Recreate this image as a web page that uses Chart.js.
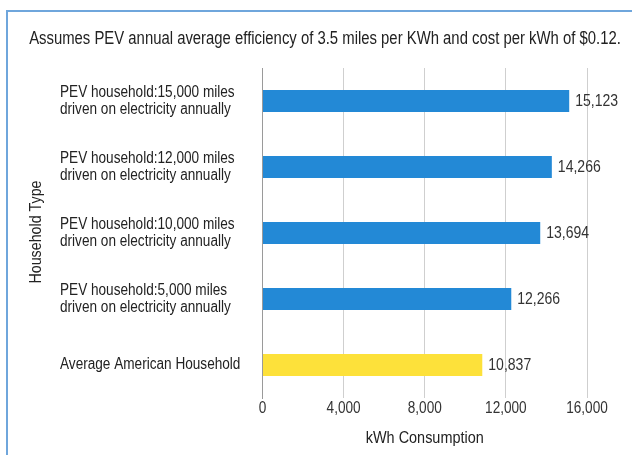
<!DOCTYPE html>
<html>
<head>
<meta charset="utf-8">
<script src="https://cdn.jsdelivr.net/npm/chart.js@4.4.1/dist/chart.umd.min.js"></script>
<style>
  html, body { margin: 0; padding: 0; background: #fff; }
  #wrap { position: relative; width: 632px; height: 455px; }
  #frame { position: absolute; left: 6px; top: 10px; right: -4px; bottom: -4px;
           border-left: 2px solid #6fa6dc; border-top: 2px solid #6fa6dc; }
  canvas { position: absolute; left: 0; top: 0; }
</style>
</head>
<body>
<div id="wrap">
  <div id="frame"></div>
  <canvas id="chart" width="632" height="455"></canvas>
</div>
<script>
const FONT = "'Liberation Sans', Arial, sans-serif";
const SQ = 0.85; // compresion horizontal para imitar una fuente estrecha

// Datos
const categories = [
    ['PEV household:15,000 miles', 'driven on electricity annually'],
    ['PEV household:12,000 miles', 'driven on electricity annually'],
    ['PEV household:10,000 miles', 'driven on electricity annually'],
    ['PEV household:5,000 miles', 'driven on electricity annually'],
    ['Average American Household']
];
const consumption = [15123, 14266, 13694, 12266, 10837];
const barColors = ['#2389d6', '#2389d6', '#2389d6', '#2389d6', '#fde13a'];
const xTicks = [0, 4000, 8000, 12000, 16000];
const chartTitle = 'Assumes PEV annual average efficiency of 3.5 miles per KWh and cost per kWh of $0.12.';
const xTitle = 'kWh Consumption';
const yTitleText = 'Household Type';

function narrowText(ctx, text, x, y, align) {
    ctx.save();
    ctx.translate(x, y);
    ctx.scale(SQ, 1);
    ctx.textAlign = align;
    ctx.fillText(text, 0, 0);
    ctx.restore();
}

// Todo el texto se dibuja aqui, usando las escalas del grafico
const textLayer = {
    id: 'textLayer',
    afterDraw(chart) {
        const ctx = chart.ctx;
        const area = chart.chartArea;
        const xs = chart.scales.x;
        const ys = chart.scales.y;
        ctx.save();
        ctx.textBaseline = 'middle';

        // titulo
        ctx.fillStyle = '#222';
        ctx.font = '17.5px ' + FONT;
        narrowText(ctx, chartTitle, 325, 39.5, 'center');

        // etiquetas de categoria
        ctx.font = '16px ' + FONT;
        categories.forEach((lines, i) => {
            const yc = ys.getPixelForValue(i);
            const start = yc - (lines.length - 1) * 17 / 2;
            lines.forEach((ln, j) => narrowText(ctx, ln, 60, start + j * 17, 'left'));
        });

        // valores
        ctx.fillStyle = '#333';
        ctx.font = '16.5px ' + FONT;
        chart.getDatasetMeta(0).data.forEach((bar, i) => {
            narrowText(ctx, consumption[i].toLocaleString('en-US'), bar.x + 6, bar.y, 'left');
        });

        // ticks del eje X
        ctx.font = '16px ' + FONT;
        xTicks.forEach(v => {
            narrowText(ctx, v.toLocaleString('en-US'), xs.getPixelForValue(v), area.bottom + 11, 'center');
        });

        // titulos de ejes
        ctx.fillStyle = '#222';
        ctx.font = '17px ' + FONT;
        narrowText(ctx, xTitle, (area.left + area.right) / 2, 438, 'center');

        ctx.translate(36, (area.top + area.bottom) / 2 - 1);
        ctx.rotate(-Math.PI / 2);
        ctx.font = '16.8px ' + FONT;
        narrowText(ctx, yTitleText, 0, 0, 'center');
        ctx.restore();
    }
};

new Chart(document.getElementById('chart'), {
    type: 'bar',
    data: {
        labels: categories,
        datasets: [{
            data: consumption,
            backgroundColor: barColors,
            borderWidth: 0,
            barPercentage: 0.333,
            categoryPercentage: 1
        }]
    },
    options: {
        indexAxis: 'y',
        responsive: false,
        animation: false,
        layout: { padding: { left: 60, right: 45, top: 68, bottom: 0 } },
        plugins: {
            legend: { display: false },
            tooltip: { enabled: false },
            title: { display: false }
        },
        scales: {
            x: {
                min: 0,
                max: 16000,
                afterBuildTicks(scale) {
                    scale.ticks = xTicks.map(v => ({ value: v }));
                },
                afterFit(scale) { scale.height = 57; },
                grid: { color: '#cfcfcf', drawTicks: false },
                border: { display: false },
                ticks: { display: false }
            },
            y: {
                afterFit(scale) { scale.width = 202.5; },
                grid: { display: false, drawTicks: false },
                border: { display: true, color: '#9a9a9a', width: 1 },
                ticks: { display: false }
            }
        }
    },
    plugins: [textLayer]
});
</script>
</body>
</html>
